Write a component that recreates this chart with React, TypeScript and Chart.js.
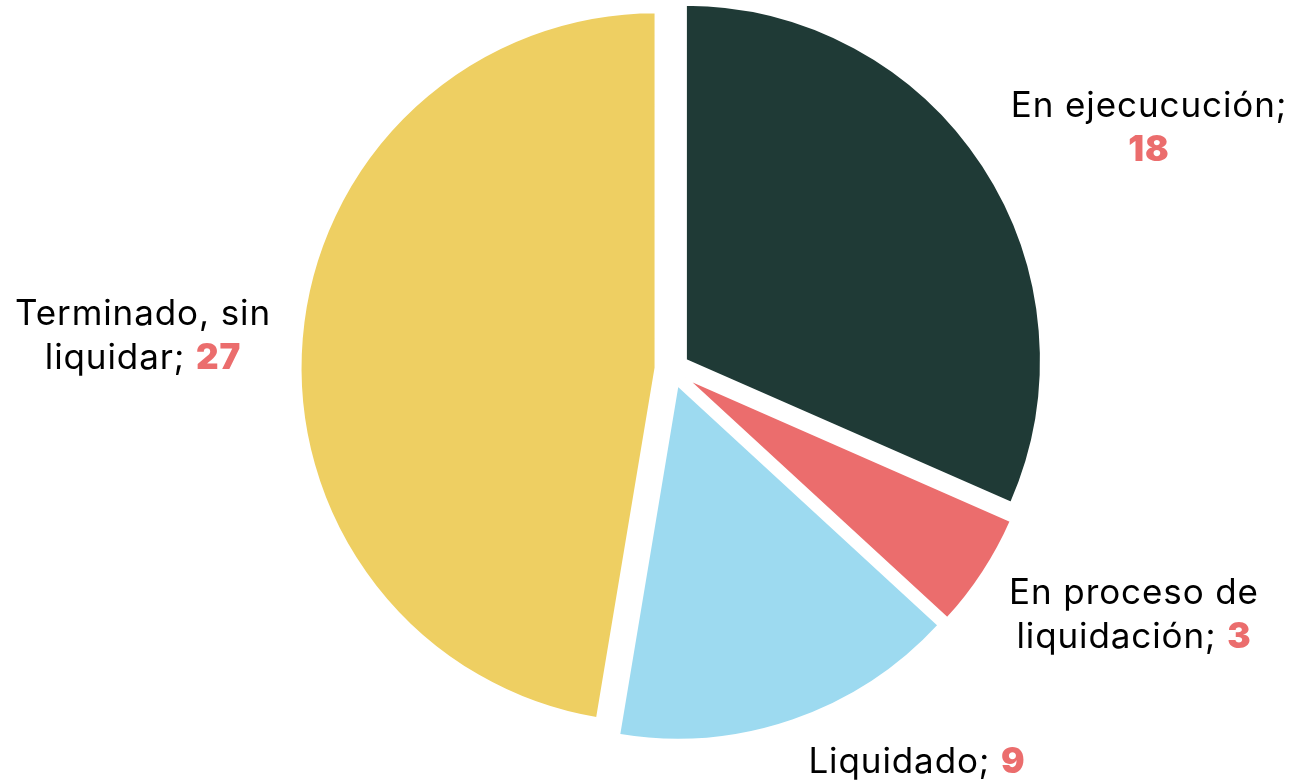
import React, { useEffect, useRef } from "react";
import { Chart, registerables } from "chart.js";

Chart.register(...registerables);

const categories = ["En ejecucución", "En proceso de liquidación", "Liquidado", "Terminado, sin liquidar"];
const values = [18, 3, 9, 27];
const colors = ["#1F3A36", "#EB6D6D", "#9DDAF0", "#EECF62"];

// label text lines (number appended to the last line in bold red)
const labelLines = [
  ["En ejecucución;", ""],
  ["En proceso de", "liquidación; "],
  ["Liquidado; "],
  ["Terminado, sin", "liquidar; "],
];
// label anchor (baseline of first line) relative to pie centre
const labelAnchors = [
  { dx: 477, dy: -252 },
  { dx: 462, dy: 235 },
  { dx: 245, dy: 404 },
  { dx: -529, dy: -44 },
];

const EXPLODE = 16;
const FONT = "Inter, 'Noto Sans', sans-serif";
const FONT_SIZE = 35;
const LINE_H = 44;
const NUM_COLOR = "#EB6D6D";

const explodePlugin = {
  id: "explodeSlices",
  afterDatasetsUpdate(chart: any) {
    const meta = chart.getDatasetMeta(0);
    meta.data.forEach((arc: any) => {
      const mid = (arc.startAngle + arc.endAngle) / 2;
      arc.x += Math.cos(mid) * EXPLODE;
      arc.y += Math.sin(mid) * EXPLODE;
    });
  },
};

const labelPlugin = {
  id: "outerLabels",
  afterDraw(chart: any) {
    const ctx = chart.ctx;
    const area = chart.chartArea;
    const cx = (area.left + area.right) / 2;
    const cy = (area.top + area.bottom) / 2;
    ctx.save();
    ctx.textBaseline = "alphabetic";
    ctx.textAlign = "left";
    try {
      (ctx as any).letterSpacing = "0.9px";
    } catch (e) {}
    labelLines.forEach((lines, i) => {
      const a = labelAnchors[i];
      const x0 = cx + a.dx;
      const y0 = cy + a.dy;
      lines.forEach((ln, j) => {
        const isLast = j === lines.length - 1;
        const parts: { t: string; bold: boolean; color: string }[] = [];
        if (ln) parts.push({ t: ln, bold: false, color: "#000000" });
        if (isLast) parts.push({ t: String(values[i]), bold: true, color: NUM_COLOR });
        let total = 0;
        parts.forEach((p) => {
          ctx.font = `${p.bold ? 900 : 400} ${FONT_SIZE}px ${FONT}`;
          total += ctx.measureText(p.t).width;
        });
        let x = x0 - total / 2;
        const y = y0 + j * LINE_H;
        parts.forEach((p) => {
          ctx.font = `${p.bold ? 900 : 400} ${FONT_SIZE}px ${FONT}`;
          ctx.fillStyle = p.color;
          ctx.fillText(p.t, x, y);
          x += ctx.measureText(p.t).width;
        });
      });
    });
    ctx.restore();
  },
};

export default function App() {
  const ref = useRef<HTMLCanvasElement | null>(null);
  useEffect(() => {
    if (!ref.current) return;
    const chart = new Chart(ref.current, {
      type: "pie",
      data: {
        labels: categories,
        datasets: [
          {
            data: values,
            backgroundColor: colors,
            borderColor: "#ffffff",
            borderWidth: 3,
            hoverOffset: 0,
          } as any,
        ],
      },
      options: {
        responsive: false,
        animation: false,
        events: [],
        layout: { padding: { top: 11.5, bottom: 57.5, left: 220, right: 169 } },
        plugins: {
          legend: { display: false },
          tooltip: { enabled: false },
        },
      },
      plugins: [explodePlugin, labelPlugin],
    });
    return () => chart.destroy();
  }, []);
  return (
    <canvas
      ref={ref}
      width={1293}
      height={784}
      style={{ position: "fixed", left: 0, top: 0, width: 1293, height: 784, display: "block" }}
    />
  );
}
